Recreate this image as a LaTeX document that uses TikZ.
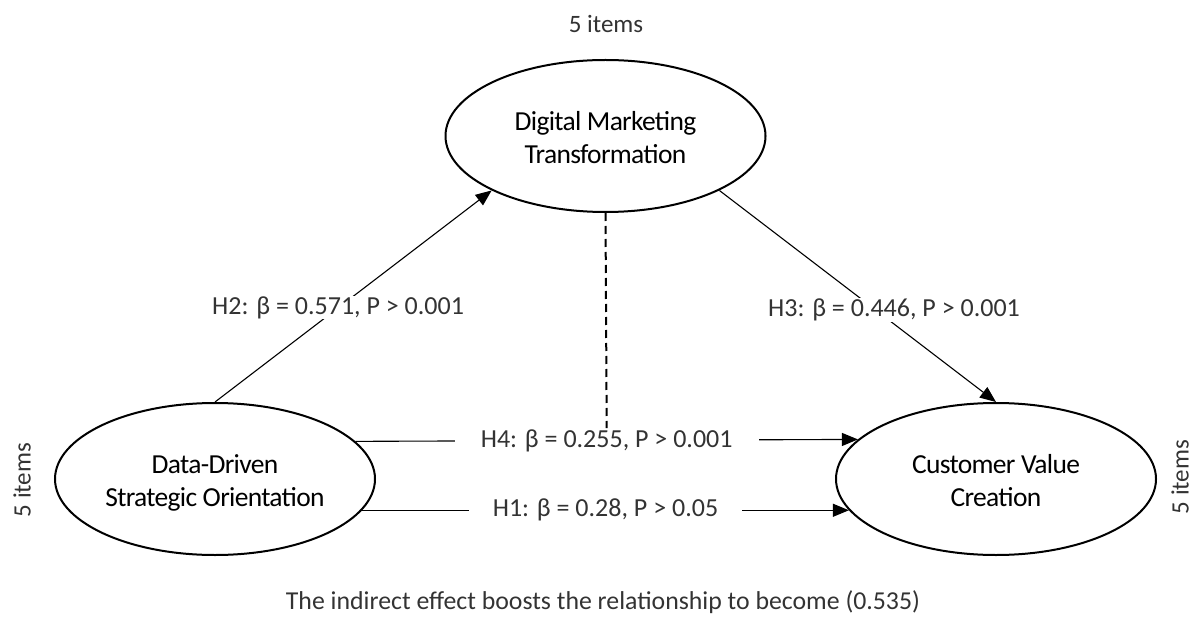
\documentclass[tikz,border=0pt]{standalone}
\usepackage{fontspec}
\setmainfont{Carlito}
\newfontfamily\condfont[LetterSpace=-2.5]{Carlito}
\usetikzlibrary{shapes.geometric,arrows.meta}
\newcommand\ellipsetext[1]{\raisebox{5.5pt}[0pt][0pt]{\begin{tabular}[t]{@{}c@{}}#1\end{tabular}}}
\begin{document}
\begin{tikzpicture}[x=1pt,y=-1pt,
  construct/.style={ellipse, draw, line width=2pt, minimum width=320pt, minimum height=152pt, inner sep=0pt, font=\condfont\fontsize{27.5}{33}\selectfont},
  conn/.style={line width=1.1pt},
  arr/.style={-{Triangle[length=16pt,width=13pt]}},
  lbl/.style={fill=white, inner sep=0.5pt, text=black!80, font=\fontsize{26}{30}\selectfont},
  items/.style={text=black!80, font=\fontsize{25}{30}\selectfont},
  dashline/.style={line width=2pt, dash pattern=on 8pt off 5pt}
]
\useasboundingbox (0,0) rectangle (1198,617);
\node[construct] (T) at (605.5,136) {\ellipsetext{Digital Marketing\\Transformation}};
\node[construct] (L) at (215,479) {\ellipsetext{Data-Driven\\Strategic Orientation}};
\node[construct] (R) at (996,479) {\ellipsetext{Customer Value\\Creation}};

\draw[conn,arr] (L.north) -- node[lbl,pos=0.445] (h2) {H2: β = 0.571, P > 0.001} (T.south west);
\draw[conn,arr] (T.south east) -- (R.north);
\draw[conn,arr] (L.15.3) -- node[lbl,inner xsep=26pt] (h4) {H4: β = 0.255, P > 0.001} (R.164.7);
\draw[conn,arr] (L.-12.9) -- node[lbl,inner xsep=24pt] (h1) {H1: β = 0.28, P > 0.05} (R.192.9);
\draw[dashline] (T.south) -- (h4.north);

\node[lbl] (h3) at (894,310) {H3: β = 0.446, P > 0.001};

\node[items] (it) at (606,24) {5 items};
\node[items, rotate=90] (il) at (22,480) {5 items};
\node[items, rotate=90] (ir) at (1180,477) {5 items};
\node[items, font=\fontsize{25.8}{30}\selectfont] (note) at (603,602) {The indirect effect boosts the relationship to become (0.535)};
\end{tikzpicture}
\end{document}
